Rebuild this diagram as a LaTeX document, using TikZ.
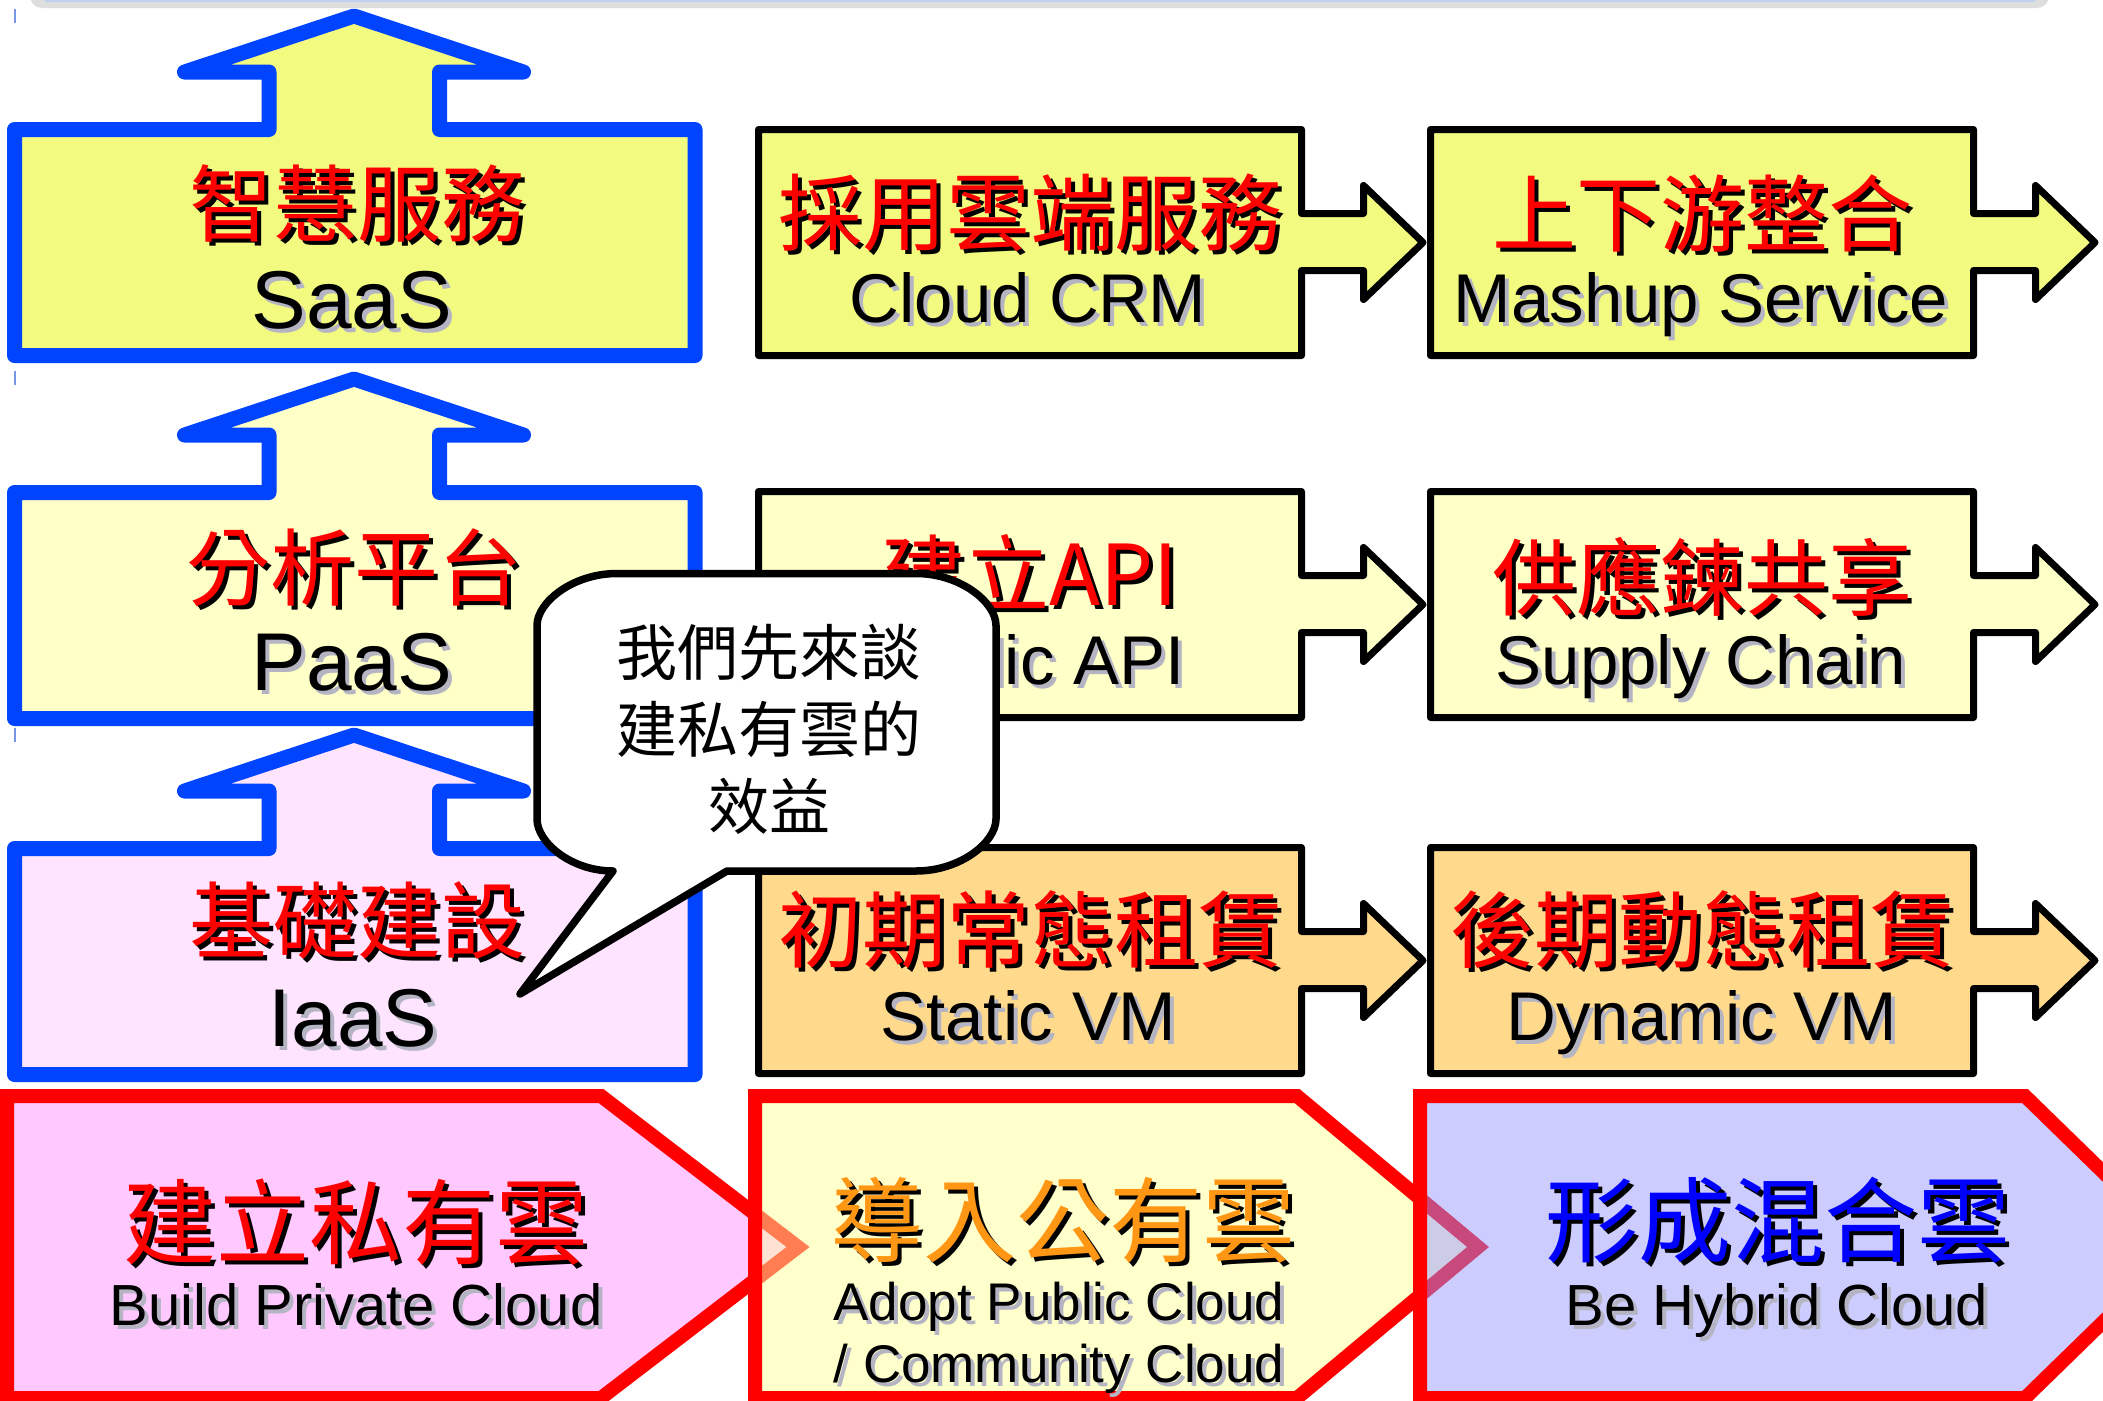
\documentclass[tikz,border=0pt]{standalone}
\usepackage{fontspec}
\setmainfont{Liberation Sans}
\newfontfamily\cjk{Noto Sans CJK TC}
\definecolor{bblue}{RGB}{0,68,255}
\definecolor{ygreen}{RGB}{242,250,128}
\definecolor{lyellow}{RGB}{255,255,200}
\definecolor{lpink}{RGB}{255,228,255}
\definecolor{lorange}{RGB}{255,217,140}
\definecolor{privpink}{RGB}{255,200,255}
\definecolor{pubyellow}{RGB}{255,255,204}
\definecolor{lavender}{RGB}{204,204,255}
\definecolor{peach}{RGB}{255,226,212}
\definecolor{coral}{RGB}{255,125,80}
\definecolor{grayl}{RGB}{204,204,230}
\definecolor{magred}{RGB}{200,74,125}
\definecolor{orangetxt}{RGB}{255,150,20}
\definecolor{shgray}{RGB}{180,180,195}
\definecolor{titlegray}{RGB}{222,222,222}
\definecolor{titleblue}{RGB}{190,210,240}
\definecolor{tickblue}{RGB}{120,150,230}
\newcommand\shd[3]{\leavevmode\rlap{\smash{\kern4pt\raisebox{-4pt}{\textcolor{#2}{#3}}}}\textcolor{#1}{#3}}
\tikzset{
  bluebox/.style={draw=bblue, line width=15pt, line join=round},
  blackbox/.style={draw=black, line width=7pt, line join=round},
  redbox/.style={draw=red, line width=14pt, line join=miter},
  zh/.style={inner sep=0pt, font=\cjk\fontsize{84}{90}\selectfont},
  zhbig/.style={inner sep=0pt, font=\cjk\fontsize{93}{100}\selectfont},
  enbig/.style={inner sep=0pt, anchor=base, font=\fontsize{82}{90}\selectfont},
  enmid/.style={inner sep=0pt, anchor=base, font=\fontsize{69}{75}\selectfont},
  ensmall/.style={inner sep=0pt, anchor=base, font=\fontsize{58}{64}\selectfont},
  entiny/.style={inner sep=0pt, anchor=base, font=\fontsize{53}{60}\selectfont},
  bubbletxt/.style={inner sep=0pt, align=center, font=\cjk\fontsize{61}{77}\selectfont},
  pics/upbox/.style={code={
    \draw[bluebox, fill=#1] (14.5,7.5) -- (269,7.5) -- (269,-50) -- (184.5,-50)
      -- (354,-106) -- (523.5,-50) -- (439.5,-50) -- (439.5,7.5) -- (695,7.5)
      -- (695,233.5) -- (14.5,233.5) -- cycle;}},
  pics/rightbox/.style={code={
    \draw[blackbox, fill=#1] (3.5,3.5) -- (546.5,3.5) -- (546.5,87.5) -- (608.5,87.5)
      -- (608.5,59.5) -- (668,116.5) -- (608.5,173.5) -- (608.5,144.5) -- (546.5,144.5)
      -- (546.5,229.5) -- (3.5,229.5) -- cycle;}}
}
\begin{document}
\begin{tikzpicture}[x=1pt,y=-1pt]
\useasboundingbox (0,0) rectangle (2103,1400);
\clip (0,0) rectangle (2103,1400);
\fill[white] (0,0) rectangle (2103,1400);

% title bar (cut by the top edge)
\fill[titlegray, rounded corners=12pt] (30,-40) rectangle (2049,8);
\draw[line width=2pt, titleblue] (45,1) -- (2035,1);

% small ticks on the left edge
\draw[line width=2pt, tickblue] (15,9) -- (15,23);
\draw[line width=2pt, tickblue] (15,371) -- (15,385);
\draw[line width=2pt, tickblue] (15,728) -- (15,742);

% left column: boxes with up arrows
\pic at (0,122) {upbox=ygreen};
\pic at (0,485) {upbox=lyellow};
\pic at (0,841) {upbox=lpink};

% right columns: boxes with right arrows
\pic at (755,126) {rightbox=ygreen};
\pic at (1427,126) {rightbox=ygreen};
\pic at (755,488) {rightbox=lyellow};
\pic at (1427,488) {rightbox=lyellow};
\pic at (755,844) {rightbox=lorange};
\pic at (1427,844) {rightbox=lorange};

% bottom row: pentagon arrows
\def\privpath{(7,1096) -- (601,1096) -- (798,1247) -- (601,1398) -- (7,1398) -- cycle}
\def\pubpath{(755,1096) -- (1297,1096) -- (1478,1247) -- (1297,1398) -- (755,1398) -- cycle}
\def\hybpath{(1420,1096) -- (2025,1096) -- (2180,1247) -- (2025,1398) -- (1420,1398) -- cycle}
\draw[redbox, fill=privpink] \privpath;
\fill[pubyellow] \pubpath;
\begin{scope}
  \clip \pubpath;
  \draw[line width=14pt, line join=miter, draw=coral, fill=peach] \privpath;
\end{scope}
\draw[redbox] \pubpath;
\fill[lavender] \hybpath;
\begin{scope}
  \clip \hybpath;
  \draw[line width=14pt, line join=miter, draw=magred, fill=grayl] \pubpath;
\end{scope}
\draw[redbox] \hybpath;

% texts, left column
\node[zh] (saaszh) at (357,203) {\shd{red}{black}{智慧服務}};
\node[enbig] (saasen) at (352,328) {\shd{black}{shgray}{SaaS}};
\node[zh] (paaszh) at (354,568) {\shd{red}{black}{分析平台}};
\node[enbig] (paasen) at (352,690) {\shd{black}{shgray}{PaaS}};
\node[zh] (iaaszh) at (357,920) {\shd{red}{black}{基礎建設}};
\node[enbig] (iaasen) at (353,1046) {\shd{black}{shgray}{IaaS}};

% texts, right columns
\node[zh] (crmzh) at (1030,213) {\shd{red}{black}{採用雲端服務}};
\node[enmid] (crmen) at (1028,322) {\shd{black}{shgray}{Cloud CRM}};
\node[zh] (mashzh) at (1702,213) {\shd{red}{black}{上下游整合}};
\node[enmid] (mashen) at (1701,322) {\shd{black}{shgray}{Mashup Service}};
\node[zh] (apizh) at (1030,573) {\shd{red}{black}{建立API}};
\node[enmid] (apien) at (1026,684) {\shd{black}{shgray}{Public API}};
\node[zh] (supzh) at (1702,577) {\shd{red}{black}{供應鍊共享}};
\node[enmid] (supen) at (1701,684) {\shd{black}{shgray}{Supply Chain}};
\node[zh] (staticzh) at (1030,930) {\shd{red}{black}{初期常態租賃}};
\node[enmid] (staticen) at (1028,1040) {\shd{black}{shgray}{Static VM}};
\node[zh] (dynzh) at (1702,930) {\shd{red}{black}{後期動態租賃}};
\node[enmid] (dynen) at (1702,1040) {\shd{black}{shgray}{Dynamic VM}};

% texts, bottom row
\node[zhbig] (privzh) at (356,1222) {\shd{red}{black}{建立私有雲}};
\node[ensmall] (priven) at (356,1325) {\shd{black}{shgray}{Build Private Cloud}};
\node[zhbig] (pubzh) at (1063,1220) {\shd{orangetxt}{black}{導入公有雲}};
\node[entiny] (pubena) at (1059,1320) {\shd{black}{shgray}{Adopt Public Cloud}};
\node[entiny] (pubenb) at (1059,1382) {\shd{black}{shgray}{/ Community Cloud}};
\node[zhbig] (hybzh) at (1778,1220) {\shd{blue}{black}{形成混合雲}};
\node[ensmall] (hyben) at (1777,1325) {\shd{black}{shgray}{Be Hybrid Cloud}};

% speech bubble
\draw[line width=7.5pt, line join=round, fill=white]
  (617,573.5) -- (916,573.5) .. controls (960.2,573.5) and (996,602.2) .. (996,625.5)
  -- (996,819) .. controls (996,842.3) and (960.2,871) .. (916,871)
  -- (727,871) -- (520,994) -- (613,871)
  .. controls (571,871) and (537,842.3) .. (537,819)
  -- (537,625.5) .. controls (537,602.2) and (572.8,573.5) .. (617,573.5) -- cycle;
\node[bubbletxt] (bubble) at (769,729) {我們先來談\\建私有雲的\\效益};
\end{tikzpicture}
\end{document}
